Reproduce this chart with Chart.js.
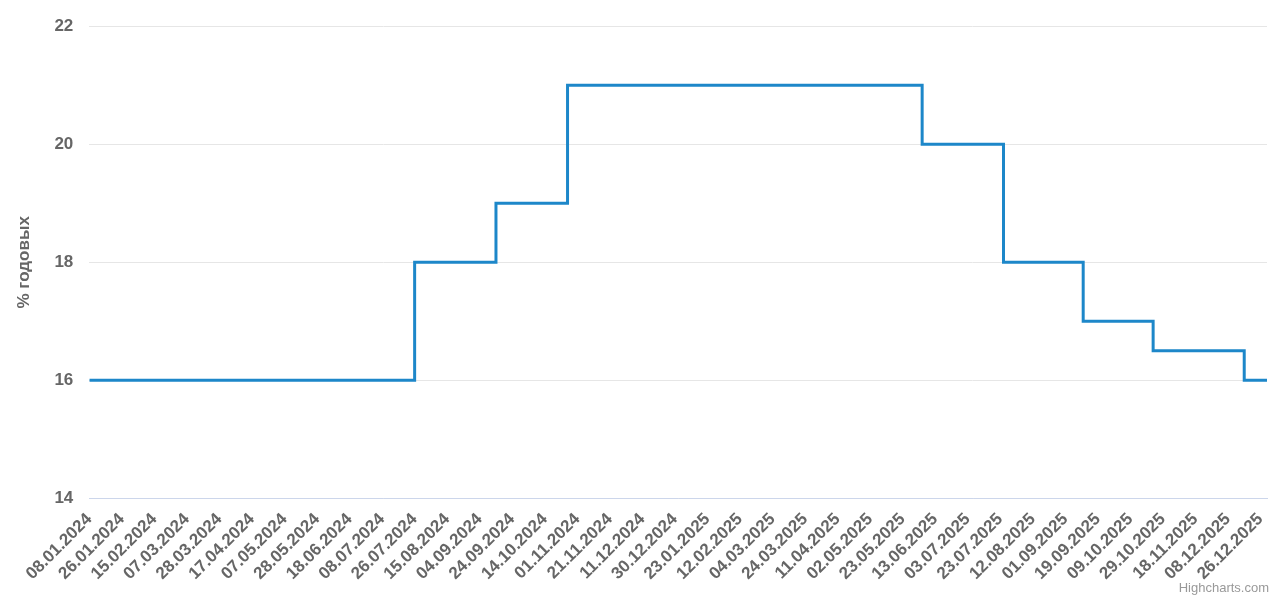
<!DOCTYPE html>
<html>
<head>
<meta charset="utf-8">
<script src="https://cdn.jsdelivr.net/npm/chart.js@4"></script>
<style>
  body { margin: 0; background: #fff; font-family: "Liberation Sans", Arial, sans-serif; }
  #wrap { position: relative; width: 1285px; height: 611px; }
  #credits { position: absolute; right: 16px; bottom: 16px; font-size: 13px; color: #999; }
</style>
</head>
<body>
<div id="wrap">
  <canvas id="chart" width="1285" height="611"></canvas>
  <div id="credits">Highcharts.com</div>
</div>
<script>
const tickLabels = ["08.01.2024","26.01.2024","15.02.2024","07.03.2024","28.03.2024","17.04.2024",
  "07.05.2024","28.05.2024","18.06.2024","08.07.2024","26.07.2024","15.08.2024","04.09.2024",
  "24.09.2024","14.10.2024","01.11.2024","21.11.2024","11.12.2024","30.12.2024","23.01.2025",
  "12.02.2025","04.03.2025","24.03.2025","11.04.2025","02.05.2025","23.05.2025","13.06.2025",
  "03.07.2025","23.07.2025","12.08.2025","01.09.2025","19.09.2025","09.10.2025","29.10.2025",
  "18.11.2025","08.12.2025","26.12.2025"];

// positions of rate changes, in tick-label units (0 = 08.01.2024)
const changePos = [0, 10.0, 12.5, 14.7, 25.6, 28.1, 30.55, 32.7, 35.5, 36.2];
const rateValues = [16, 18, 19, 21, 20, 18, 17, 16.5, 16, 16];

const points = changePos.map((x, i) => ({ x: x, y: rateValues[i] }));

new Chart(document.getElementById("chart"), {
  type: "line",
  data: {
    datasets: [{
      data: points,
      stepped: "before",
      borderColor: "#1d87c9",
      borderWidth: 3,
      pointRadius: 0,
      fill: false,
    }],
  },
  options: {
    responsive: false,
    animation: false,
    layout: { padding: { left: 10, right: 18, top: 0, bottom: 24 } },
    plugins: { legend: { display: false }, tooltip: { enabled: false } },
    scales: {
      x: {
        type: "linear",
        min: 0,
        max: 36.2,
        grid: { display: false },
        border: { color: "#ccd6eb" },
        afterBuildTicks: (axis) => {
          axis.ticks = tickLabels.map((_, i) => ({ value: i }));
        },
        ticks: {
          autoSkip: false,
          maxRotation: 45,
          minRotation: 45,
          color: "#666",
          font: { size: 17, weight: "bold", family: "Liberation Sans" },
          callback: (v) => tickLabels[v],
        },
      },
      y: {
        min: 14,
        max: 22,
        grid: { color: "#e6e6e6", drawTicks: false },
        border: { display: false },
        ticks: {
          stepSize: 2,
          padding: 16,
          color: "#666",
          font: { size: 17, weight: "bold", family: "Liberation Sans" },
        },
        title: {
          display: true,
          text: "% годовых",
          color: "#666",
          font: { size: 17, weight: "bold", family: "Liberation Sans" },
        },
      },
    },
  },
});
</script>
</body>
</html>
